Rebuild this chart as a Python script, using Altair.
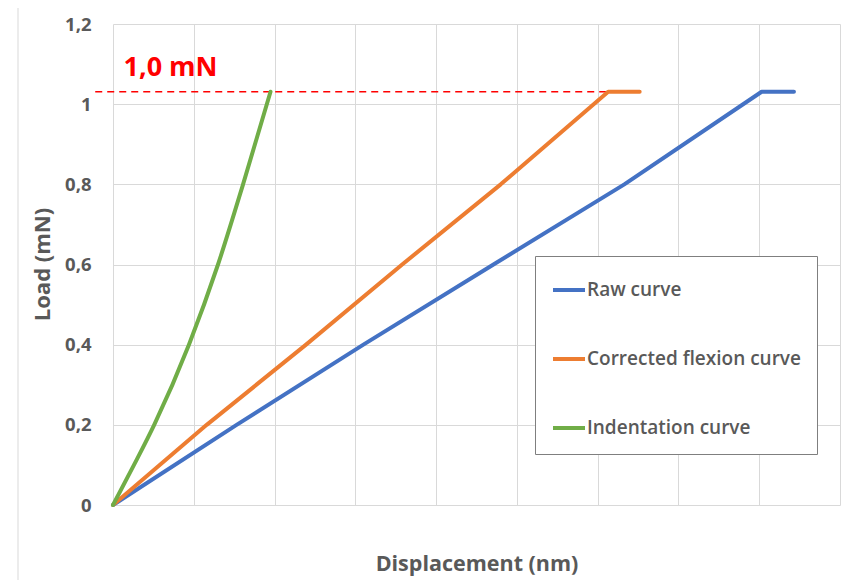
import altair as alt
import pandas as pd

# ---- data ----
series_names = ["Raw curve", "Corrected flexion curve", "Indentation curve"]
series_colors = ["#4472C4", "#ED7D31", "#70AD47"]

raw_disp = [0, 1.53, 3.10, 4.71, 6.33, 8.03, 8.43]
raw_load = [0, 0.2, 0.4, 0.6, 0.8, 1.031, 1.031]

corr_disp = [0, 1.16, 2.39, 3.58, 4.80, 6.13, 6.52]
corr_load = [0, 0.2, 0.4, 0.6, 0.8, 1.031, 1.031]

ind_disp = [0, 0.26, 0.51, 0.94, 1.30, 1.61, 1.95]
ind_load = [0, 0.1, 0.2, 0.4, 0.6, 0.8, 1.031]

y_ticks = [0, 0.2, 0.4, 0.6, 0.8, 1.0, 1.2]
x_grid = [0, 1, 2, 3, 4, 5, 6, 7, 8, 9]

ref_x_start = [-0.22]
ref_x_end = [6.13]
ref_load = [1.031]
ref_label = ["1,0 mN"]
ref_label_x = [0.13]
ref_label_y = [1.09]

rows = []
for name, xs, ys in [("Raw curve", raw_disp, raw_load),
                     ("Corrected flexion curve", corr_disp, corr_load),
                     ("Indentation curve", ind_disp, ind_load)]:
    for i, (xv, yv) in enumerate(zip(xs, ys)):
        rows.append({"series": name, "disp": xv, "load": yv, "idx": i})
df = pd.DataFrame(rows)

df_ref = pd.DataFrame({"disp": ref_x_start, "disp2": ref_x_end, "load": ref_load})
df_lab = pd.DataFrame({"disp": ref_label_x, "load": ref_label_y, "text": ref_label})

FONT = "Open Sans"
GRAY = "#595959"
GRID = "#D9D9D9"

xscale = alt.Scale(domain=[0, 9], nice=False, zero=False)
yscale = alt.Scale(domain=[0, 1.2], nice=False, zero=False)

xaxis = alt.Axis(
    values=x_grid, labels=False, ticks=False, domain=False, grid=True,
    gridColor=GRID, gridWidth=1, title="Displacement (nm)",
    titleFont=FONT, titleFontSize=21.5, titleFontWeight="bold", titleColor=GRAY,
    titleY=65, titleBaseline="alphabetic")
yaxis = alt.Axis(
    values=y_ticks, ticks=False, domain=False, grid=True, gridColor=GRID, gridWidth=1,
    labelExpr="datum.value == 0 ? '0' : (abs(datum.value - 1) < 1e-9 ? '1' : replace(format(datum.value, '.1f'), '.', ','))",
    labelFont=FONT, labelFontSize=18.5, labelFontWeight="bold", labelColor=GRAY, labelPadding=22,
    title="Load (mN)", titleFont=FONT, titleFontSize=22, titleFontWeight="bold", titleColor=GRAY,
    titleX=-71, titleY=240, titleAngle=270, titleAlign="center", titleBaseline="middle")

X = alt.X("disp:Q", scale=xscale, axis=xaxis, title="Displacement (nm)")
Y = alt.Y("load:Q", scale=yscale, axis=yaxis, title="Load (mN)")

color = alt.Color("series:N", scale=alt.Scale(domain=series_names, range=series_colors),
                  legend=alt.Legend(
                      title=None, orient="none", legendX=422, legendY=232, direction="vertical",
                      symbolType="stroke", symbolSize=1024, symbolStrokeWidth=4,
                      labelFont=FONT, labelFontSize=19, labelFontWeight=600, labelColor=GRAY,
                      labelLimit=400, labelOffset=0, padding=16, rowPadding=41,
                      strokeColor="#7F7F7F", fillColor="white"))

base = alt.Chart(df)

straight = base.mark_line(strokeWidth=4, strokeCap="round", strokeJoin="round").encode(
    x=X, y=Y, color=color, order="idx:Q",
).transform_filter(alt.datum.series != "Indentation curve")

curved = base.mark_line(strokeWidth=4, strokeCap="round", strokeJoin="round",
                        interpolate="monotone").encode(
    x=X, y=Y, color=color, order="idx:Q",
).transform_filter(alt.datum.series == "Indentation curve")

ref_rule = alt.Chart(df_ref).mark_rule(color="#FF0000", strokeWidth=1.5, strokeDash=[7, 5]).encode(
    x=X, x2="disp2:Q", y=Y,
)

ref_text = alt.Chart(df_lab).mark_text(align="left", baseline="middle", font=FONT, fontSize=27,
                                       fontWeight="bold", color="#FF0000").encode(
    x=X, y=Y, text="text:N",
)

frame = alt.Chart(df_lab).mark_rule(color=GRID, strokeWidth=1).encode(
    x=alt.value(-95), y=alt.value(-16), y2=alt.value(600)
)

chart = alt.layer(frame, ref_rule, straight, curved, ref_text).properties(
    width=727, height=481,
    autosize=alt.AutoSizeParams(type="none"),
    padding={"left": 105, "top": 16, "right": 10, "bottom": 75},
).configure_view(stroke=None)

chart.save("out.html", embed_options={"renderer": "svg", "actions": False})
